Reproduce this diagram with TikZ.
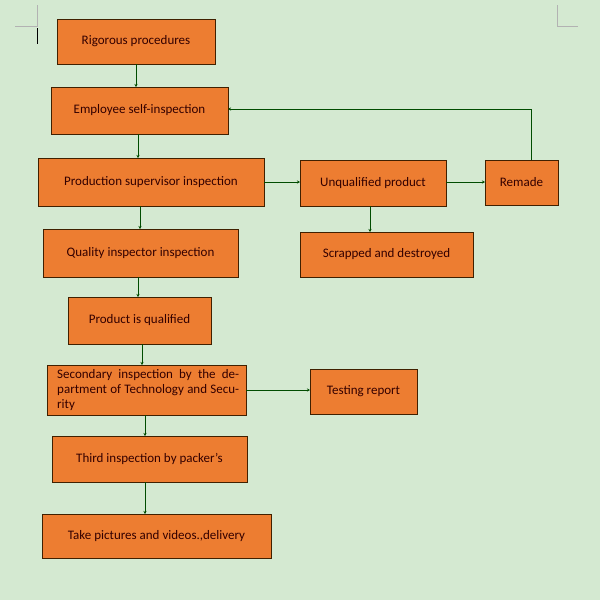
\documentclass[tikz,border=0pt]{standalone}
\usepackage{fontspec}
\setmainfont{Carlito}
\usetikzlibrary{arrows.meta}
\begin{document}
\begin{tikzpicture}[x=1pt,y=-1pt,
  box/.style={draw=black!75!orange,fill=boxor,line width=0.8pt,font=\fontsize{13}{15}\selectfont,text=black!80!red},
  arr/.style={draw=black!70!green,line width=0.8pt,-{Stealth[length=3pt,width=3pt]}}]
\definecolor{boxor}{HTML}{ED7D31}
\definecolor{bg}{HTML}{D4E9D1}
\fill[bg] (0,0) rectangle (600,600);
\useasboundingbox (0,0) rectangle (600,600);
\draw[gray!60,line width=0.6pt] (37,5) -- (37,26) -- (15,26) (557,5) -- (557,26) -- (578,26);
\draw[black,line width=1pt] (37,28) -- (37,44);
\newcommand{\bx}[6]{\draw[box] (#2,#3) rectangle (#4,#5); \node[font=\fontsize{13}{15}\selectfont,text=black!80!red] (#1) at ({(#2+#4)/2},{(#3+#5)/2}) {#6};
 \coordinate (#1n) at ({(#2+#4)/2},#3); \coordinate (#1s) at ({(#2+#4)/2},#5);}
\bx{a}{57}{19}{215}{64}{Rigorous procedures}
\bx{b}{51}{87}{228}{134}{Employee self-inspection}
\bx{c}{38}{158}{264}{206}{Production supervisor inspection}
\bx{u}{300}{160}{446}{206}{Unqualified product}
\bx{r}{485}{160}{558}{205}{Remade}
\bx{s}{300}{232}{473}{277}{Scrapped and destroyed}
\bx{q}{43}{229}{238}{277}{Quality inspector inspection}
\bx{p}{68}{297}{211}{344}{Product is qualified}
\bx{t}{310}{369}{417}{414}{Testing report}
\bx{h}{52}{436}{247}{482}{Third inspection by packer's}
\bx{k}{42}{514}{271}{558}{Take pictures and videos.,delivery}
\draw[box] (47,365) rectangle (246,415);
\begin{scope}
\clip (47,365) rectangle (246,414.5);
\node[anchor=north west,inner sep=0pt,text width=182pt,align=justify,font=\fontsize{13}{15}\selectfont,text=black!80!red] (d) at (57,369) {Secondary inspection by the department of Technology and Security};
\end{scope}
\coordinate (dn) at (142,365); \coordinate (ds) at (145,415);
\draw[arr] (136,64) -- (136,87);
\draw[arr] (138,134) -- (138,158);
\draw[arr] (140,206) -- (140,229);
\draw[arr] (138,277) -- (138,297);
\draw[arr] (142,344) -- (142,365);
\draw[arr] (145,415) -- (145,436);
\draw[arr] (145,482) -- (145,514);
\draw[arr] (264,182) -- (300,182);
\draw[arr] (446,182) -- (485,182);
\draw[arr] (370,206) -- (370,232);
\draw[arr] (531,160) -- (531,109) -- (228,109);
\draw[arr] (246,390) -- (310,390);
\end{tikzpicture}
\end{document}
